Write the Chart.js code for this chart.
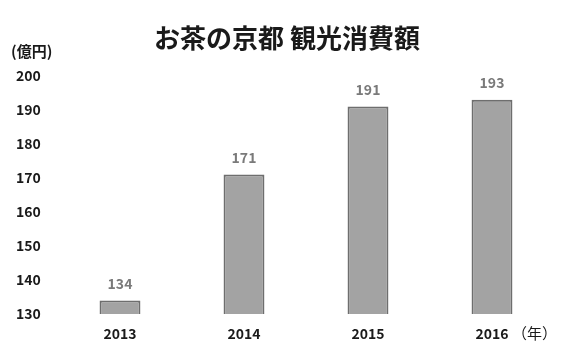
<!DOCTYPE html>
<html><head><meta charset="utf-8">
<script src="https://cdn.jsdelivr.net/npm/chart.js@4.4.0/dist/chart.umd.min.js"></script>
<style>html,body{margin:0;padding:0;background:#fff}#wrap{width:563px;height:351px}</style>
</head><body><div id="wrap"><canvas id="c" width="563" height="351"></canvas></div>
<script>
const categories = ["2013", "2014", "2015", "2016"];
const values = [134, 171, 191, 193];
const yTicks = [130, 140, 150, 160, 170, 180, 190, 200];
const titleText = "お茶の京都 観光消費額";
const unitText = "(億円)";
const xUnitText = "（年）";

const FONT = "'Noto Sans CJK JP', 'DejaVu Sans', sans-serif";

const extras = {
  id: 'extras',
  afterDatasetsDraw(chart) {
    const ctx = chart.ctx;
    const meta = chart.getDatasetMeta(0);
    ctx.save();
    ctx.font = "bold 14px " + FONT;
    ctx.fillStyle = "#7a7a7a";
    ctx.textAlign = "center";
    ctx.textBaseline = "middle";
    meta.data.forEach((bar, i) => {
      ctx.fillText(String(values[i]), bar.x, bar.y - 17);
    });
    ctx.restore();
  },
  afterDraw(chart) {
    const ctx = chart.ctx;
    ctx.save();
    ctx.fillStyle = "#1a1a1a";
    ctx.font = "bold 26px " + FONT;
    ctx.textAlign = "center";
    ctx.textBaseline = "middle";
    ctx.fillText(titleText, 287, 38);
    ctx.font = "bold 15px " + FONT;
    ctx.textAlign = "left";
    ctx.fillText(unitText, 11, 51);
    const xs = chart.scales.x;
    const lastX = xs.getPixelForValue(categories.length - 1);
    ctx.font = "15px " + FONT;
    ctx.fillText(xUnitText, lastX + 20, 333);
    ctx.restore();
  }
};

new Chart(document.getElementById('c'), {
  type: 'bar',
  data: {
    labels: categories,
    datasets: [{
      data: values,
      backgroundColor: '#a3a3a3',
      borderColor: '#6e6e6e',
      borderWidth: 2,
      barPercentage: 0.33,
      categoryPercentage: 1.0
    }]
  },
  options: {
    responsive: false,
    animation: false,
    devicePixelRatio: 1,
    layout: { padding: { left: 16, right: 9, top: 76, bottom: 0 } },
    plugins: { legend: { display: false }, tooltip: { enabled: false }, title: { display: false } },
    scales: {
      x: {
        afterFit(scale) { scale.height = 37; },
        grid: { display: false, drawTicks: false },
        border: { display: false },
        ticks: { color: '#1a1a1a', font: { family: FONT, size: 14, weight: 'bold' }, padding: 11 }
      },
      y: {
        min: 130, max: 200,
        afterBuildTicks(scale) { scale.ticks = yTicks.map(v => ({ value: v })); },
        afterFit(scale) { scale.width = 42; },
        grid: { display: false, drawTicks: false },
        border: { display: false },
        ticks: { color: '#1a1a1a', font: { family: FONT, size: 14, weight: 'bold' }, crossAlign: 'far', padding: 4 }
      }
    }
  },
  plugins: [extras]
});
</script></body></html>
